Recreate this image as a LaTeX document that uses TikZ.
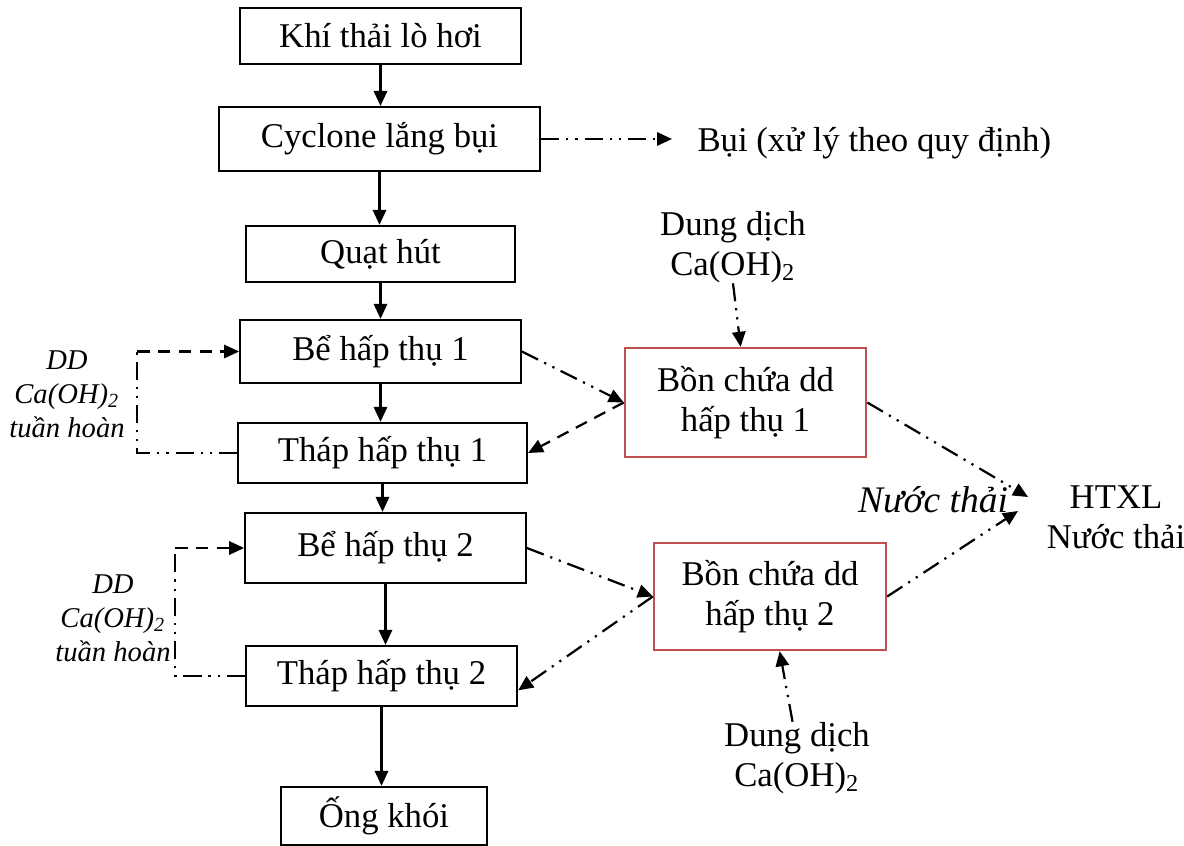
\documentclass[tikz,border=0pt]{standalone}
\usepackage{fontspec}
\setmainfont{Liberation Serif}
\usepackage{tikz}
\usetikzlibrary{arrows.meta}
\definecolor{tankline}{HTML}{C0504D}

\begin{document}
\begin{tikzpicture}[
  x=0.36pt, y=-0.36pt,
  font=\fontsize{12.5}{14.4}\selectfont,
  blk/.style={draw, line width=0.8pt, align=center, inner sep=0pt},
  tank/.style={blk, draw=tankline, line width=0.9pt},
  lbl/.style={align=center, inner sep=0pt},
  note/.style={lbl, font=\fontsize{10.3}{12.2}\selectfont\itshape},
  arr/.style={-{Triangle[length=5.4pt, width=4.8pt]}, line width=0.8pt},
  dd/.style={line width=0.8pt, dash pattern=on 6.5pt off 2.5pt on 0.8pt off 2.5pt on 0.8pt off 2.5pt},
  dsh/.style={line width=0.8pt, dash pattern=on 4.5pt off 3pt}
]
  \useasboundingbox (0,0) rectangle (1184,846);
  % Dong khi chinh
  \node[blk, minimum width=101pt, minimum height=20.2pt] (khi)   at (380.5,36)  {Khí thải lò hơi};
  \node[blk, minimum width=115.6pt, minimum height=23pt] (cyc)   at (379.5,139) {Cyclone lắng bụi};
  \node[blk, minimum width=96.8pt, minimum height=20.2pt] (quat) at (380.5,254) {Quạt hút};
  \node[blk, minimum width=101pt, minimum height=22.7pt] (be1)   at (380.5,351.5) {Bể hấp thụ 1};
  \node[blk, minimum width=104pt, minimum height=21.6pt] (thap1) at (382.5,453) {Tháp hấp thụ 1};
  \node[blk, minimum width=101pt, minimum height=25.2pt] (be2)   at (385.5,548) {Bể hấp thụ 2};
  \node[blk, minimum width=97.6pt, minimum height=21.6pt] (thap2) at (381.5,676) {Tháp hấp thụ 2};
  \node[blk, minimum width=74.2pt, minimum height=20.9pt] (ong)  at (384,816)   {Ống khói};
  % Bon chua dung dich
  \node[tank, minimum width=86.8pt, minimum height=39.2pt] (bon1) at (745.5,402.5) {Bồn chứa dd\\hấp thụ 1};
  \node[tank, minimum width=83.5pt, minimum height=38.5pt] (bon2) at (770,596.5)  {Bồn chứa dd\\hấp thụ 2};
  % Nhan
  \node[lbl, anchor=west] (bui) at (697,143) {Bụi (xử lý theo quy định)};
  \node[lbl] (ca1)  at (733,247) {Dung dịch\\Ca(OH)\textsubscript{2}};
  \node[lbl] (ca2)  at (797,758) {Dung dịch\\Ca(OH)\textsubscript{2}};
  \node[lbl] (htxl) at (1116,517) {HTXL\\Nước thải};
  \node[lbl, font=\fontsize{13.5}{15}\selectfont\itshape] (nt) at (933,500) {Nước thải};
  \node[note] (tuan1) at (67,394)  {DD\\Ca(OH)\textsubscript{2}\\tuần hoàn};
  \node[note] (tuan2) at (113,618) {DD\\Ca(OH)\textsubscript{2}\\tuần hoàn};
  \coordinate (lp1) at (137,351.5);
  \coordinate (lp2) at (175,548);
  \coordinate (in1) at (1028,497);
  \coordinate (in2) at (1018,511);

  % Duong chinh
  \foreach \a/\b in {khi/cyc, cyc/quat, quat/be1, be1/thap1, thap1/be2, be2/thap2, thap2/ong}
    \draw[arr] (\a.south) -- (\a.south |- \b.north);
  \draw[arr, dd, shorten >=9pt] (cyc.east) -- (cyc.east -| bui.west);
  % Tuan hoan
  \draw[dd] (thap1.west) -| (lp1);
  \draw[arr, dsh] (lp1) -- (be1.west);
  \draw[dd] (thap2.west) -| (lp2);
  \draw[arr, dsh] (lp2) -- (be2.west);
  % Dung dich hap thu
  \draw[arr, dd] (be1.east) -- (bon1.west);
  \draw[arr, dsh] (bon1.west) -- (thap1.east);
  \draw[arr, dd] (be2.east) -- (bon2.west);
  \draw[arr, dd] (bon2.west) -- (thap2.-6);
  \draw[arr, dd] (ca1.south) -- (bon1.95);
  \draw[arr, dd] (ca2.97) -- (bon2.-80);
  % Nuoc thai
  \draw[arr, dd] (bon1.east) -- (in1);
  \draw[arr, dd] (bon2.east) -- (in2);
\end{tikzpicture}
\end{document}
